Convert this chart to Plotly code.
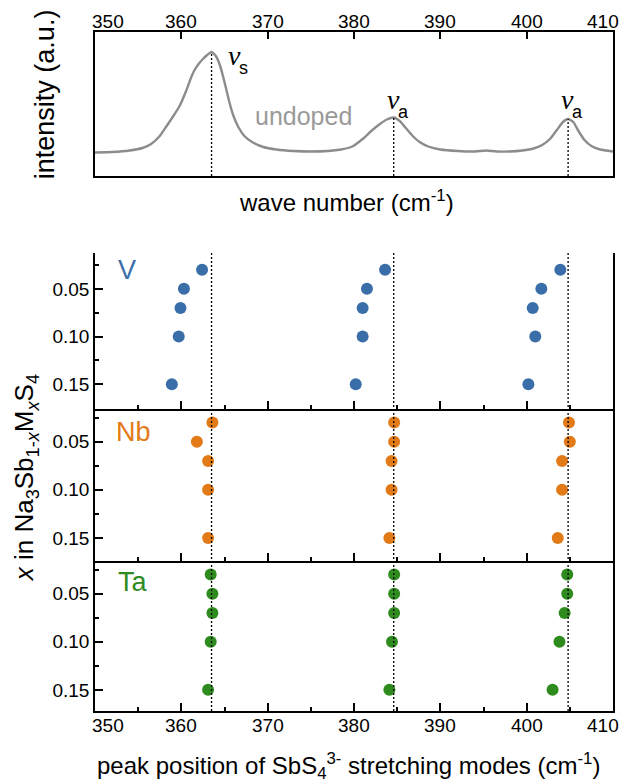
import plotly.graph_objects as go

# ---------------- data ----------------
# undoped Raman spectrum, intensity in a.u.
SPEC_WN = [350.0, 352.0, 354.0, 355.5, 356.5, 357.5, 358.3, 359.0, 359.8, 360.6,
           361.2, 361.6, 362.0, 362.5, 363.0, 363.5, 364.0, 364.5, 365.0, 365.5,
           366.0, 366.6, 367.3, 368.2, 369.5, 371.0, 373.0, 375.0, 377.0, 378.5,
           379.8, 381.0, 382.0, 383.0, 383.8, 384.6, 385.3, 386.0, 386.8, 387.6,
           388.6, 390.0, 392.0, 394.0, 395.3, 396.5, 398.0, 399.5, 400.8, 401.8,
           402.7, 403.5, 404.2, 404.8, 405.4, 406.0, 406.7, 407.5, 408.5, 410.0]
SPEC_INT = [-0.005, 0.0, 0.015, 0.04, 0.08, 0.16, 0.26, 0.35, 0.46, 0.62,
            0.76, 0.83, 0.88, 0.93, 0.97, 1.0, 0.96, 0.86, 0.70, 0.52,
            0.37, 0.25, 0.16, 0.10, 0.05, 0.025, 0.01, 0.005, 0.01, 0.025,
            0.055, 0.13, 0.21, 0.28, 0.325, 0.345, 0.31, 0.24, 0.16, 0.10,
            0.055, 0.025, 0.01, 0.005, 0.015, 0.005, 0.005, 0.015, 0.035, 0.07,
            0.13, 0.22, 0.30, 0.33, 0.30, 0.21, 0.12, 0.06, 0.025, 0.005]

PEAKS = [363.5, 384.6, 404.8]          # undoped peak positions
PEAK_INT = [1.0, 0.345, 0.33]           # undoped peak heights
PEAK_NAMES = ["s", "a", "a"]

X_CONTENT = [0.03, 0.05, 0.07, 0.10, 0.15]
V_NU_S = [362.4, 360.3, 359.9, 359.7, 358.9]
V_NU_A1 = [383.6, 381.5, 381.0, 381.0, 380.2]
V_NU_A2 = [403.9, 401.7, 400.7, 401.0, 400.2]
NB_NU_S = [363.6, 361.8, 363.1, 363.1, 363.1]
NB_NU_A1 = [384.65, 384.65, 384.35, 384.35, 384.1]
NB_NU_A2 = [404.9, 405.0, 404.1, 404.1, 403.6]
TA_NU_S = [363.4, 363.6, 363.6, 363.4, 363.1]
TA_NU_A1 = [384.65, 384.65, 384.65, 384.4, 384.1]
TA_NU_A2 = [404.7, 404.7, 404.4, 403.8, 403.0]

X_TICKS = [350, 360, 370, 380, 390, 400, 410]
X_MINOR = [355, 365, 375, 385, 395, 405]
Y_TICKS = [0.05, 0.10, 0.15]
Y_TICKTEXT = ["0.05", "0.10", "0.15"]
Y_MINOR = [0.025, 0.075, 0.125]

ELEMENTS = ["V", "Nb", "Ta"]
COLORS = {"V": "#3A6EA8", "Nb": "#E17A17", "Ta": "#2E8B1E"}
SERIES = {
    "V": [V_NU_S, V_NU_A1, V_NU_A2],
    "Nb": [NB_NU_S, NB_NU_A1, NB_NU_A2],
    "Ta": [TA_NU_S, TA_NU_A1, TA_NU_A2],
}

# ---------------- layout geometry ----------------
W, H = 623, 782
ML, MR, MT, MB = 95, 8, 32, 71
PW, PH = W - ML - MR, H - MT - MB
BOTTOM = H - MB


def px_x(px):
    return (px - ML) / PW


def px_y(py):
    return (BOTTOM - py) / PH


SANS = "Liberation Sans, Arial, Helvetica, sans-serif"
SERIF = "Liberation Serif, Times New Roman, serif"
LW = 1.5

fig = go.Figure()

# top panel spectrum
fig.add_trace(go.Scatter(x=SPEC_WN, y=SPEC_INT, mode="lines",
                         line=dict(color="#8c8c8c", width=2.4, shape="spline", smoothing=0.5),
                         xaxis="x", yaxis="y", hoverinfo="skip"))
TOP_RANGE = [-0.24, 1.20]
for p, h in zip(PEAKS, PEAK_INT):
    fig.add_trace(go.Scatter(x=[p, p], y=[TOP_RANGE[0], h], mode="lines",
                             line=dict(color="black", width=1.3, dash="2px,2px"),
                             xaxis="x", yaxis="y", hoverinfo="skip"))

# lower panels
axis_ids = {"V": ("x2", "y2"), "Nb": ("x3", "y3"), "Ta": ("x4", "y4")}
for el in ELEMENTS:
    xa, ya = axis_ids[el]
    for s in SERIES[el]:
        fig.add_trace(go.Scatter(x=s, y=X_CONTENT, mode="markers",
                                 marker=dict(color=COLORS[el], size=12, line=dict(width=0)),
                                 xaxis=xa, yaxis=ya, hoverinfo="skip"))

# dotted reference lines through the three lower panels
LOW_TOP = 253
for p in PEAKS:
    fig.add_shape(type="line", xref="x4", yref="paper", x0=p, x1=p,
                  y0=0, y1=px_y(LOW_TOP),
                  line=dict(color="black", width=1.3, dash="2px,2px"), layer="above")

common_x = dict(range=[350, 410], showgrid=False, zeroline=False, showline=True,
                linecolor="black", linewidth=LW, ticks="inside", tickvals=X_TICKS,
                tickcolor="black", tickwidth=LW, showticklabels=False)

top_dom = [px_y(176), 1.0]
v_dom = [px_y(409), px_y(LOW_TOP)]
nb_dom = [px_y(561), px_y(409)]
ta_dom = [0.0, px_y(561)]

minor_x = dict(tickmode="array", tickvals=X_MINOR, ticks="inside", ticklen=4,
               tickwidth=LW, tickcolor="black")
minor_y = dict(tickmode="array", tickvals=Y_MINOR, ticks="inside", ticklen=4,
               tickwidth=LW, tickcolor="black")

common_y = dict(showgrid=False, zeroline=False, showline=True, mirror=True,
                linecolor="black", linewidth=LW, ticks="inside", tickvals=Y_TICKS,
                ticktext=Y_TICKTEXT, ticklen=8, tickwidth=LW, tickcolor="black",
                tickfont=dict(family=SANS, size=19, color="black"), minor=minor_y)

fig.update_layout(
    width=W, height=H, margin=dict(l=ML, r=MR, t=MT, b=MB),
    paper_bgcolor="white", plot_bgcolor="white", showlegend=False,
    font=dict(family=SANS, color="black"),
    xaxis=dict(common_x, side="top", mirror=True, ticklen=7, anchor="y"),
    yaxis=dict(domain=top_dom, range=TOP_RANGE, showgrid=False, zeroline=False,
               showline=True, mirror=True, linecolor="black", linewidth=LW,
               ticks="", showticklabels=False, anchor="x"),
    xaxis2=dict(common_x, anchor="y2", mirror=False, ticklen=8, minor=minor_x),
    yaxis2=dict(common_y, domain=v_dom, range=[0.176, 0.0124], anchor="x2"),
    xaxis3=dict(common_x, anchor="y3", mirror=False, ticklen=8, minor=minor_x),
    yaxis3=dict(common_y, domain=nb_dom, range=[0.174, 0.016], anchor="x3"),
    xaxis4=dict(common_x, anchor="y4", mirror=False, ticklen=8, minor=minor_x),
    yaxis4=dict(common_y, domain=ta_dom, range=[0.172, 0.016], anchor="x4"),
)


def label(x, y, text, size, color="black", family=SANS, angle=0, xref="paper"):
    return dict(x=x, y=y, xref=xref, yref="paper", text=text, showarrow=False,
                xanchor="center", yanchor="middle", textangle=angle,
                font=dict(family=family, size=size, color=color))


ann = []
# x tick labels (edge labels nudged inward as in the original)
shift = {350: 1.5, 410: -1.2}
for t in X_TICKS:
    for ref, ypx in (("x", 21), ("x4", 725)):
        ann.append(label(t + shift.get(t, 0), px_y(ypx), str(t), 19, xref=ref))

# axis titles
ann.append(label(px_x(45), px_y(94), "intensity (a.u.)", 27, angle=-90))
ann.append(label(px_x(347), px_y(201), "wave number (cm<sup>-1</sup>)", 24))
ann.append(label(px_x(25), px_y(478),
                 "<i>x</i> in Na<sub>3</sub>Sb<sub>1-<i>x</i></sub>M<sub><i>x</i></sub>S<sub>4</sub>",
                 26, angle=-90))
ann.append(label(px_x(349), px_y(766),
                 "peak position of SbS<sub>4</sub><sup>3-</sup> stretching modes (cm<sup>-1</sup>)", 24))

# undoped label and nu labels
ann.append(label(px_x(304), px_y(116), "undoped", 25, color="#9a9a9a"))
NU_POS = [(235, 56, 244, 68), (395, 100, 405, 112), (569, 100, 579, 112)]
for (nx, ny, sx, sy), name in zip(NU_POS, PEAK_NAMES):
    ann.append(label(px_x(nx), px_y(ny), "<i>ν</i>", 28, family=SERIF))
    ann.append(label(px_x(sx), px_y(sy), name, 18))

# element labels
EL_POS = {"V": (127, 270), "Nb": (134, 432), "Ta": (133, 582)}
for el in ELEMENTS:
    ex, ey = EL_POS[el]
    ann.append(label(px_x(ex), px_y(ey), el, 27, color=COLORS[el]))

fig.update_layout(annotations=ann)
fig.write_html("out.html")
